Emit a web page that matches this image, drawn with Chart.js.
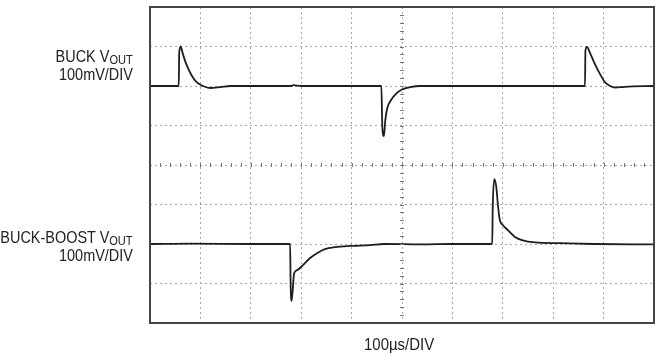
<!DOCTYPE html>
<html>
<head>
<meta charset="utf-8">
<script src="https://cdn.jsdelivr.net/npm/chart.js@4.4.0/dist/chart.umd.min.js"></script>
<style>
    body { margin: 0; background: #fff; }
    #wrap { position: relative; width: 663px; height: 362px; }
    .lbl {
        position: absolute;
        font-family: "Liberation Sans", Arial, sans-serif;
        font-size: 17px;
        line-height: 17px;
        color: #222;
        white-space: nowrap;
        transform: scaleX(0.85);
    }
    .lbl.r { right: 530px; text-align: right; transform-origin: right center; }
    .lbl.l { transform-origin: left center; transform: scaleX(0.88); }
    .lbl sub { font-size: 13px; vertical-align: -2px; line-height: 0; }
</style>
</head>
<body>
<div id="wrap">
    <canvas id="scope"></canvas>
    <div class="lbl r" style="top:48px">BUCK V<sub>OUT</sub></div>
    <div class="lbl r" style="top:66px">100mV/DIV</div>
    <div class="lbl r" style="top:229px">BUCK-BOOST V<sub>OUT</sub></div>
    <div class="lbl r" style="top:247px">100mV/DIV</div>
    <div class="lbl l" style="top:336px; left:364px">100µs/DIV</div>
</div>
<script>
// time in µs (100µs/DIV, 10 divisions), voltage deviation in mV (100mV/DIV)
var buckTime = [0, 56, 57, 58, 61, 65, 73, 83, 93, 105, 119, 139, 160, 280, 284, 300,
    459, 461, 464, 467, 471, 478, 488, 500, 516, 536, 600,
    863, 864, 867, 873, 883, 893, 903, 913, 923, 942, 1000];
var buckMv = [0, 0, 0, 85, 100, 82, 52, 26, 9, 0, -5, -3, 0, 0, 2, 0,
    0, -105, -127, -85, -55, -36, -20, -9, -3, 0, 0,
    0, 90, 99, 84, 55, 30, 9, 0, -4, -2, 0];

var bbTime = [0, 80, 200, 278, 279, 281, 286, 292, 304, 317, 333, 347, 367, 397, 437, 464, 540, 600,
    679, 680, 683, 687, 690, 694, 700, 710, 724, 738, 764, 813, 880, 1000];
var bbMv = [0, 1, 0, 0, -100, -144, -74, -66, -53, -36, -22, -13, -8, -5, -3, 0, -1, 0,
    0, 90, 164, 145, 103, 61, 48, 35, 18, 10, 4, 2, 0, -1];

function toPoints(xs, ys) {
    return xs.map(function(x, i) { return {x: x, y: ys[i]}; });
}

// frame and the little tick marks along the centre lines
var scopeFrame = {
    id: 'scopeFrame',
    afterDraw: function(chart) {
        var ctx = chart.ctx;
        var a = chart.chartArea;
        var xs = chart.scales.x;
        var ys = chart.scales.yBuck;
        var cx = xs.getPixelForValue(500);
        var cy = ys.getPixelForValue(-200);
        ctx.save();
        ctx.strokeStyle = '#777';
        ctx.lineWidth = 1;
        ctx.beginPath();
        for (var t = 0; t <= 1000; t += 20) {
            var px = Math.round(xs.getPixelForValue(t)) + 0.5;
            ctx.moveTo(px, cy - 2);
            ctx.lineTo(px, cy + 2);
        }
        for (var v = -600; v <= 200; v += 20) {
            var py = Math.round(ys.getPixelForValue(v)) + 0.5;
            ctx.moveTo(cx - 2, py);
            ctx.lineTo(cx + 2, py);
        }
        ctx.stroke();
        ctx.strokeStyle = '#444';
        ctx.lineWidth = 2;
        ctx.strokeRect(a.left, a.top, a.right - a.left, a.bottom - a.top);
        ctx.restore();
    }
};

new Chart(document.getElementById('scope'), {
    type: 'line',
    data: {
        datasets: [
            {
                label: 'BUCK VOUT',
                data: toPoints(buckTime, buckMv),
                yAxisID: 'yBuck',
                borderColor: '#1e1e1e',
                borderWidth: 1.8,
                pointRadius: 0,
                cubicInterpolationMode: 'monotone'
            },
            {
                label: 'BUCK-BOOST VOUT',
                data: toPoints(bbTime, bbMv),
                yAxisID: 'yBB',
                borderColor: '#1e1e1e',
                borderWidth: 1.8,
                pointRadius: 0,
                cubicInterpolationMode: 'monotone'
            }
        ]
    },
    options: {
        responsive: true,
        maintainAspectRatio: false,
        animation: false,
        layout: { padding: { left: 150, right: 9, top: 7, bottom: 39 } },
        plugins: { legend: { display: false }, tooltip: { enabled: false } },
        scales: {
            x: {
                type: 'linear', min: 0, max: 1000,
                ticks: { display: false, stepSize: 100 },
                grid: { color: '#a8a8a8', lineWidth: 1, drawTicks: false },
                border: { display: false, dash: [2, 3] },
                afterFit: function(s) { s.height = 0; }
            },
            yBuck: {
                type: 'linear', min: -600, max: 200, position: 'left',
                ticks: { display: false, stepSize: 100 },
                grid: { color: '#a8a8a8', lineWidth: 1, drawTicks: false },
                border: { display: false, dash: [2, 3] },
                afterFit: function(s) { s.width = 0; }
            },
            yBB: {
                type: 'linear', min: -200, max: 600, display: false
            }
        }
    },
    plugins: [scopeFrame]
});
</script>
</body>
</html>
